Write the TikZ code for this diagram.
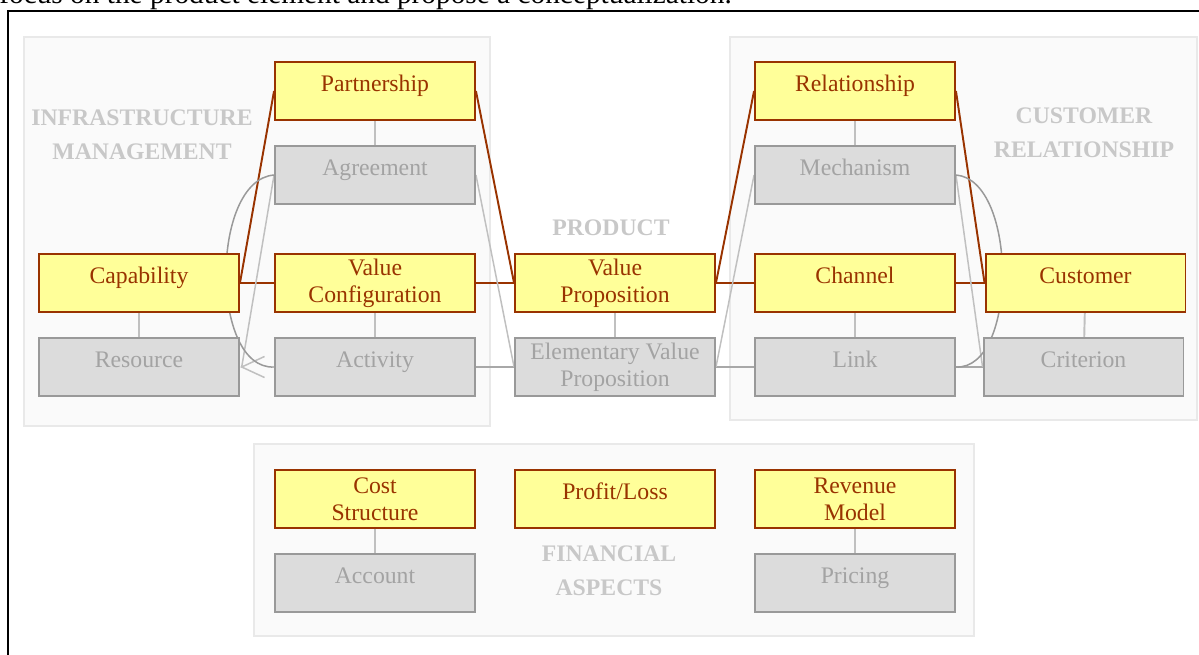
\documentclass[tikz,border=0pt]{standalone}
\usepackage{fontspec}
\setmainfont{Liberation Serif}
\usetikzlibrary{arrows.meta}

\definecolor{BoxBrown}{HTML}{993300}
\definecolor{BoxYellow}{HTML}{FFFF99}
\definecolor{BoxGrey}{HTML}{DCDCDC}
\definecolor{EdgeGrey}{HTML}{999999}
\definecolor{TextGrey}{HTML}{A3A3A3}
\definecolor{LinkGrey}{HTML}{C0C0C0}
\definecolor{AreaFill}{HTML}{FAFAFA}
\definecolor{AreaEdge}{HTML}{E9E9E9}
\definecolor{AreaText}{HTML}{C8C8C8}

\pgfdeclarelayer{areas}
\pgfdeclarelayer{links}
\pgfsetlayers{areas,links,main}

\tikzset{
  concept/.style={draw=BoxBrown, fill=BoxYellow, text=BoxBrown, line width=1.1pt,
    minimum width=4cm, minimum height=1.16cm, inner sep=0pt, align=center,
    font=\fontsize{13.5}{15.3}\selectfont},
  element/.style={concept, draw=EdgeGrey, fill=BoxGrey, text=TextGrey},
  oneline/.style={text height=9pt, text depth=8.6pt},
  areabox/.style={draw=AreaEdge, fill=AreaFill, line width=1.1pt},
  arealabel/.style={text=AreaText, align=center, inner sep=0pt,
    font=\fontsize{13.5}{19.3}\selectfont\bfseries},
  tieline/.style={BoxBrown, line width=1.1pt},
  partline/.style={LinkGrey, line width=1.1pt},
  seqline/.style={EdgeGrey!85, line width=1.1pt},
  slantline/.style={LinkGrey, line width=0.85pt},
  curveline/.style={EdgeGrey, line width=0.85pt},
}

\begin{document}
\begin{tikzpicture}[x=0.02cm, y=-0.02cm]
  \useasboundingbox (0,0) rectangle (1199,655);

  % page text and frame
  \node[anchor=base west, inner sep=0pt, font=\fontsize{16.7}{20}\selectfont] (intro) at (-1,3.5)
    {focus on the product element and propose a conceptualization.};
  \draw[line width=1.2pt] (8,700) -- (8,11) -- (1230,11);

  % areas
  \begin{pgfonlayer}{areas}
    \draw[areabox] (24,37) rectangle (490,426);
    \draw[areabox] (730,37) rectangle (1197,420);
    \draw[areabox] (254,444) rectangle (974,636);
  \end{pgfonlayer}
  \node[arealabel] (infra) at (142,135) {INFRASTRUCTURE\\MANAGEMENT};
  \node[arealabel] (custrel) at (1084,133) {CUSTOMER\\RELATIONSHIP};
  \node[arealabel] (product) at (611,228) {PRODUCT};
  \node[arealabel] (finance) at (609,571) {FINANCIAL\\ASPECTS};

  % infrastructure
  \node[concept, oneline] (partner) at (375,91) {Partnership};
  \node[element, oneline] (agree) at (375,175) {Agreement};
  \node[concept, oneline] (capab) at (139,283) {Capability};
  \node[concept] (valconf) at (375,283) {Value\\Configuration};
  \node[element, oneline] (resource) at (139,367) {Resource};
  \node[element, oneline] (activity) at (375,367) {Activity};

  % product
  \node[concept] (valprop) at (615,283) {Value\\Proposition};
  \node[element] (elemprop) at (615,367) {Elementary Value\\Proposition};

  % customer relationship
  \node[concept, oneline] (relation) at (855,91) {Relationship};
  \node[element, oneline] (mechanism) at (855,175) {Mechanism};
  \node[concept, oneline] (channel) at (855,283) {Channel};
  \node[concept, oneline] (customer) at (1085.5,283) {Customer};
  \node[element, oneline] (link) at (855,367) {Link};
  \node[element, oneline] (criterion) at (1083.5,367) {Criterion};

  % financial aspects
  \node[concept] (cost) at (375,499) {Cost\\Structure};
  \node[concept, oneline] (profit) at (615,499) {Profit/Loss};
  \node[concept] (revenue) at (855,499) {Revenue\\Model};
  \node[element, oneline] (account) at (375,583) {Account};
  \node[element, oneline] (pricing) at (855,583) {Pricing};

  \begin{pgfonlayer}{links}
    % main elements
    \draw[tieline] (partner.west) -- (capab.east);
    \draw[tieline] (capab.east) -- (valconf.west);
    \draw[tieline] (partner.east) -- (valprop.west);
    \draw[tieline] (valconf.east) -- (valprop.west);
    \draw[tieline] (valprop.east) -- (relation.west);
    \draw[tieline] (valprop.east) -- (channel.west);
    \draw[tieline] (relation.east) -- (customer.west);
    \draw[tieline] (channel.east) -- (customer.west);

    % sub elements
    \draw[partline] (partner) -- (agree);
    \draw[partline] (capab) -- (resource);
    \draw[partline] (valconf) -- (activity);
    \draw[partline] (valprop) -- (elemprop);
    \draw[partline] (relation) -- (mechanism);
    \draw[partline] (channel) -- (link);
    \draw[partline] (customer) -- (criterion);
    \draw[partline] (cost) -- (account);
    \draw[partline] (revenue) -- (pricing);

    \draw[seqline] (activity) -- (elemprop);
    \draw[seqline] (elemprop) -- (link);
    \draw[seqline] (link) -- (criterion);

    \draw[slantline, -{Straight Barb[length=13pt, width=12pt]}]
      (agree.west) -- ([xshift=1pt]resource.east) -- (resource.east);
    \draw[slantline] (agree.east) -- (elemprop.west);
    \draw[slantline] (mechanism.west) -- (elemprop.east);
    \draw[slantline] (mechanism.east) -- (criterion.west);

    \draw[curveline] (agree.west) .. controls (210,180) and (210,370) .. (activity.west);
    \draw[curveline] (mechanism.east) .. controls (1018,180) and (1018,370) .. (link.east);
  \end{pgfonlayer}
\end{tikzpicture}
\end{document}
